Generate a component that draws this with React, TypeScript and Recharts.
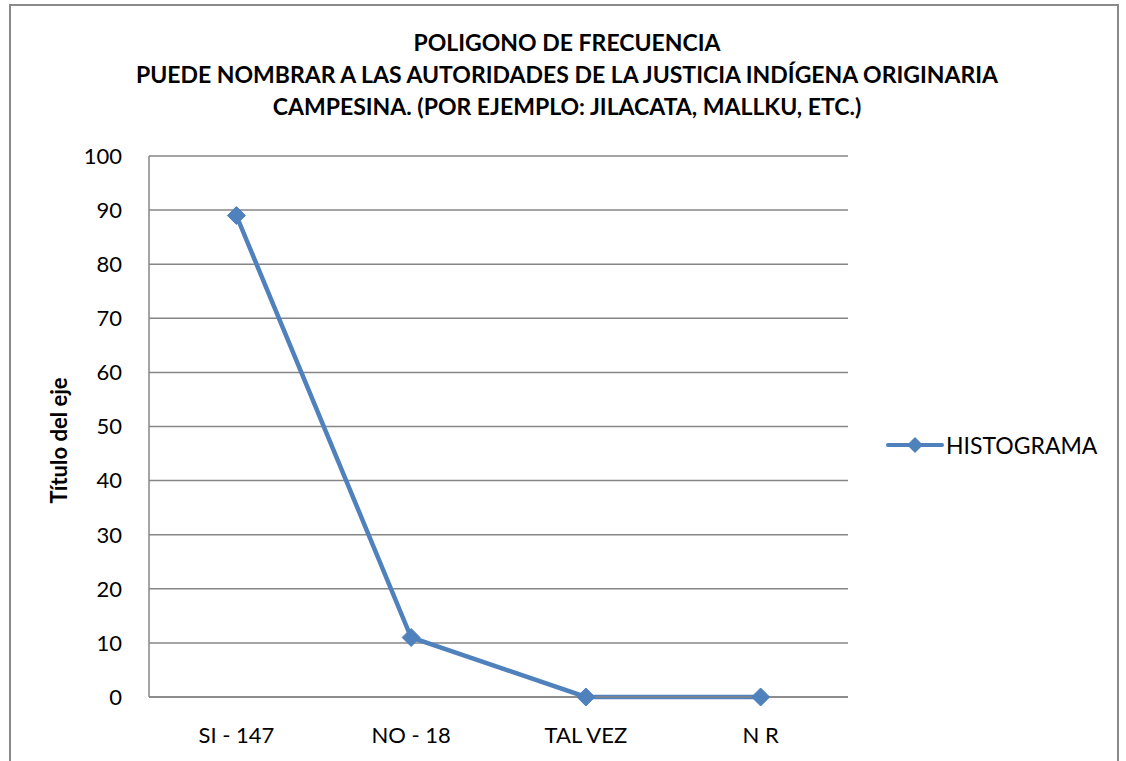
import React from "react";
import { CartesianGrid, Line, LineChart, XAxis, YAxis } from "recharts";

const CATEGORIES = ["SI - 147", "NO - 18", "TAL VEZ", "N R"];
const HISTOGRAMA = [89, 11, 0, 0];
const Y_TICKS = [0, 10, 20, 30, 40, 50, 60, 70, 80, 90, 100];
const TITLE_LINES = [
  "POLIGONO DE FRECUENCIA",
  "PUEDE NOMBRAR A LAS AUTORIDADES DE LA JUSTICIA INDÍGENA ORIGINARIA",
  "CAMPESINA. (POR EJEMPLO: JILACATA, MALLKU, ETC.)",
];

const FONT = "Lato, 'Open Sans', sans-serif";
const BLUE = "#4F81BD";
const GRID = "#868686";
const TICK = { fill: "#000", fontSize: 22, fontFamily: FONT };

const data = CATEGORIES.map((name, i) => ({ name, HISTOGRAMA: HISTOGRAMA[i] }));

function Diamond(props: any) {
  const { cx, cy } = props;
  if (cx == null || cy == null) return null;
  const r = 9;
  return (
    <polygon
      points={`${cx},${cy - r} ${cx + r},${cy} ${cx},${cy + r} ${cx - r},${cy}`}
      fill={BLUE}
      stroke={BLUE}
    />
  );
}

function AxisTitle(props: any) {
  const vb = props.viewBox || {};
  const x = (vb.x ?? 49) + 9;
  const y = (vb.y ?? 156) + (vb.height ?? 541) / 2 + 14;
  return (
    <text
      x={x}
      y={y}
      transform={`rotate(-90 ${x} ${y})`}
      textAnchor="middle"
      dominantBaseline="central"
      fontFamily={FONT}
      fontSize={22}
      fontWeight={700}
      fill="#000"
    >
      Título del eje
    </text>
  );
}

function LegendBox() {
  return (
    <div style={{ display: "flex", alignItems: "center", fontFamily: FONT, fontSize: 23 }}>
      <svg width={60} height={20}>
        <line x1={3} y1={10} x2={57} y2={10} stroke={BLUE} strokeWidth={4} strokeLinecap="round" />
        <polygon points="30,2 38,10 30,18 22,10" fill={BLUE} />
      </svg>
      <span style={{ marginLeft: 1 }}>HISTOGRAMA</span>
    </div>
  );
}

export default function App() {
  return (
    <div style={{ position: "absolute", left: 0, top: 0, width: 1126, height: 761, overflow: "hidden", background: "#fff" }}>
      <div
        style={{
          position: "absolute",
          left: 9,
          top: 4,
          width: 1106,
          height: 800,
          border: "2px solid #8a8a8a",
        }}
      />
      <div
        style={{
          position: "absolute",
          left: 0,
          top: 26,
          width: 1134,
          textAlign: "center",
          fontFamily: FONT,
          fontWeight: 700,
          fontSize: 23,
          lineHeight: "32px",
        }}
      >
        {TITLE_LINES.map((t) => (
          <div key={t}>{t}</div>
        ))}
      </div>
      <div style={{ position: "absolute", left: 0, top: 0 }}>
        <LineChart
          width={1126}
          height={761}
          data={data}
          margin={{ top: 156, right: 278, bottom: 34, left: 49 }}
        >
          <CartesianGrid horizontal vertical={false} stroke={GRID} strokeWidth={1.5} />
          <XAxis
            dataKey="name"
            scale="band"
            tick={TICK}
            tickLine={false}
            axisLine={{ stroke: GRID, strokeWidth: 1.5 }}
            tickMargin={24}
            height={30}
          />
          <YAxis
            domain={[0, 100]}
            ticks={Y_TICKS}
            tick={TICK}
            tickLine={false}
            axisLine={{ stroke: GRID, strokeWidth: 1.5 }}
            tickMargin={21}
            width={100}
            label={<AxisTitle />}
          />
          <Line
            type="linear"
            dataKey="HISTOGRAMA"
            stroke={BLUE}
            strokeWidth={4.5}
            dot={<Diamond />}
            activeDot={false}
            isAnimationActive={false}
          />
        </LineChart>
      </div>
      <div style={{ position: "absolute", left: 885, top: 431 }}>
        <LegendBox />
      </div>
    </div>
  );
}
